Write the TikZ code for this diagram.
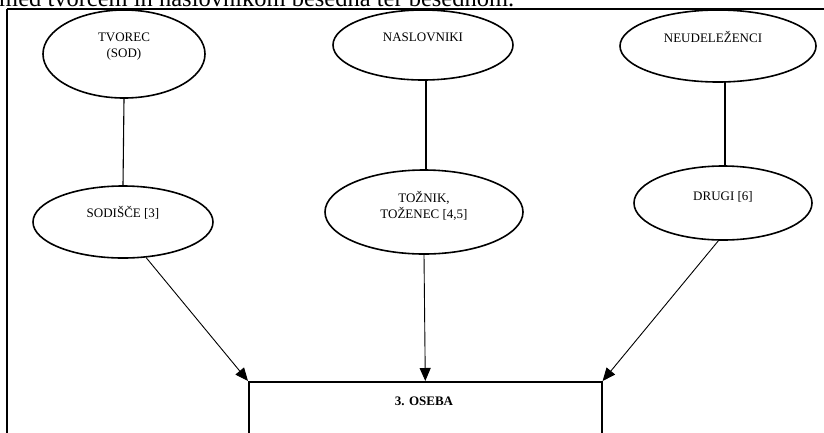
\documentclass[tikz,border=0pt]{standalone}
\usepackage{fontspec}
\setmainfont{Liberation Serif}
\usetikzlibrary{shapes.geometric,arrows.meta}
\tikzset{
  oval/.style={draw, ellipse, line width=1.6pt, inner sep=0pt},
  lbl/.style={font=\fontsize{13}{16}\selectfont, align=center, inner sep=0pt},
  conn/.style={line width=1.1pt},
  thickconn/.style={line width=1.7pt},
  arr/.style={line width=0.9pt, -{Triangle[length=13pt,width=11pt]}},
  boxst/.style={draw, line width=1.6pt, rectangle, inner sep=0pt, anchor=north west}
}
\begin{document}
\begin{tikzpicture}[x=1pt,y=-1pt]
\useasboundingbox (0,0) rectangle (824,432);
\clip (0,0) rectangle (824,432);
\node[anchor=base west, inner sep=0pt, font=\fontsize{24.5}{28}\selectfont] (top) at (-1,6.5) {med tvorcem in naslovnikom besedna ter besednom.};
\draw[line width=2pt] (7,9) -- (840,9) coordinate (fr) ;
\draw[line width=2pt] (7,9) -- (7,450) coordinate (fl);
% ellipses
\node[oval, minimum width=162pt, minimum height=88pt] (A) at (124,54) {};
\node[oval, minimum width=180pt, minimum height=72pt] (B) at (123,222) {};
\node[oval, minimum width=180pt, minimum height=70pt] (C) at (423,45) {};
\node[oval, minimum width=198pt, minimum height=84pt] (D) at (424,212) {};
\node[oval, minimum width=196pt, minimum height=72pt] (E) at (718,46) {};
\node[oval, minimum width=178pt, minimum height=74pt] (F) at (723,203) {};
% texts
\node[lbl] (tA) at (124,47) {TVOREC\\(SOD)};
\node[lbl] (tB) at (123,213) {SODIŠČE [3]};
\node[lbl] (tC) at (423,37) {NASLOVNIKI};
\node[lbl] (tD) at (424,206) {TOŽNIK,\\TOŽENEC [4,5]};
\node[lbl] (tE) at (713,37) {NEUDELEŽENCI};
\node[lbl] (tF) at (723,197) {DRUGI [6]};
% box
\node[boxst, minimum width=353pt, minimum height=120pt] (box) at (248,381) {};
\node[lbl, font=\bfseries\fontsize{13}{16}\selectfont] (tbox) at (424,401) {3. OSEBA};
% connectors
\coordinate (eS) at (725,82);
\draw[conn] (A.south) -- (B.north);
\draw[thickconn] ([xshift=3pt]C.south) -- ([xshift=3pt]C.south |- D.north);
\draw[thickconn] (eS) -- (eS |- F.north);
\draw[arr] (B.-57) -- (box.north west);
\draw[arr] (D.south) -- (box.north);
\draw[arr] (F.-97) -- (box.north east);
\end{tikzpicture}
\end{document}
